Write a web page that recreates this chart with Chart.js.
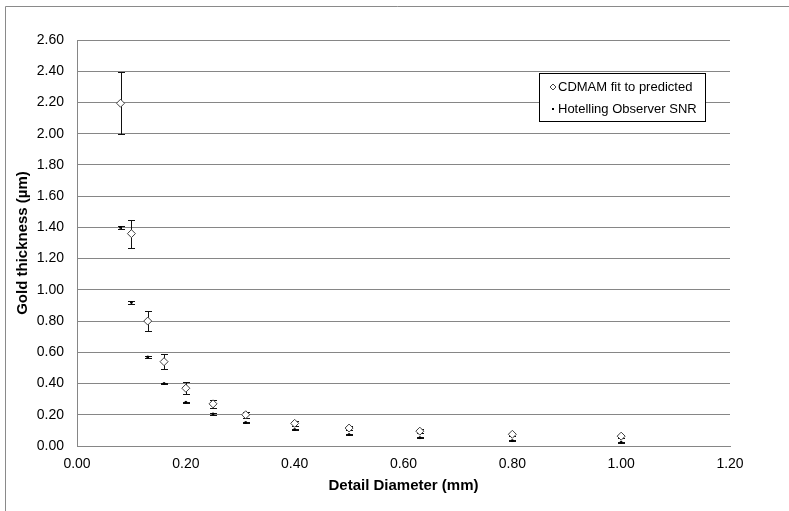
<!DOCTYPE html>
<html>
<head>
<meta charset="utf-8">
<script src="https://cdn.jsdelivr.net/npm/chart.js@4/dist/chart.umd.min.js"></script>
<style>
  html, body { margin: 0; padding: 0; background: #fff; }
  #wrap { position: relative; width: 789px; height: 511px; }
</style>
</head>
<body>
<div id="wrap"><canvas id="chart" width="789" height="511"></canvas></div>
<script>
// detail diameters (mm)
const diameters = [0.08, 0.10, 0.13, 0.16, 0.20, 0.25, 0.31, 0.40, 0.50, 0.63, 0.80, 1.00];
// gold thickness (um) - CDMAM fit to predicted, with error half-widths
const cdmamValues = [2.195, 1.36, 0.80, 0.54, 0.37, 0.27, 0.20, 0.145, 0.115, 0.095, 0.075, 0.063];
const cdmamErrors = [0.20, 0.09, 0.065, 0.05, 0.037, 0.025, 0.02, 0.016, 0.014, 0.012, 0.01, 0.01];
// Hotelling observer SNR
const hotellingValues = [1.40, 0.92, 0.57, 0.40, 0.28, 0.205, 0.15, 0.105, 0.073, 0.053, 0.034, 0.024];
const hotellingErrors = [0.01, 0.008, 0.006, 0.005, 0.004, 0.004, 0.004, 0.004, 0.004, 0.003, 0.003, 0.003];

const seriesLabels = ['CDMAM fit to predicted', 'Hotelling Observer SNR'];
const axisTitles = { x: 'Detail Diameter (mm)', y: 'Gold thickness (\u00b5m)' };

const FONT = "'Liberation Sans', Arial, sans-serif";
const GRID = '#868686';

const toPoints = (vals, errs) => vals.map((v, i) => ({ x: diameters[i], y: v, err: errs[i] }));

// error bars, drawn under the markers
const errorBars = {
  id: 'errorBars',
  beforeDatasetsDraw(chart) {
    const { ctx, scales: { x, y } } = chart;
    ctx.save();
    ctx.strokeStyle = '#111';
    ctx.lineWidth = 1;
    chart.data.datasets.forEach(ds => {
      ds.data.forEach(p => {
        const px = Math.round(x.getPixelForValue(p.x)) + 0.5;
        const top = Math.round(y.getPixelForValue(p.y + p.err)) + 0.5;
        const bot = Math.round(y.getPixelForValue(p.y - p.err)) + 0.5;
        ctx.beginPath();
        ctx.moveTo(px, top); ctx.lineTo(px, bot);
        ctx.moveTo(px - 3.5, top); ctx.lineTo(px + 3.5, top);
        ctx.moveTo(px - 3.5, bot); ctx.lineTo(px + 3.5, bot);
        ctx.stroke();
      });
    });
    ctx.restore();
  }
};

// outer frame + boxed legend inside the plot
const frameAndLegend = {
  id: 'frameAndLegend',
  beforeDraw(chart) {
    const ctx = chart.ctx;
    ctx.save();
    ctx.strokeStyle = '#8a8a8a';
    ctx.lineWidth = 1;
    ctx.beginPath();
    ctx.moveTo(5.5, 520); ctx.lineTo(5.5, 6.5); ctx.lineTo(800, 6.5);
    ctx.stroke();
    ctx.restore();
  },
  afterDraw(chart) {
    const ctx = chart.ctx;
    ctx.save();
    ctx.fillStyle = '#fff';
    ctx.fillRect(539, 73, 167, 49);
    ctx.strokeStyle = '#000';
    ctx.lineWidth = 1;
    ctx.strokeRect(539.5, 73.5, 166, 48);
    ctx.font = '13px ' + FONT;
    ctx.fillStyle = '#000';
    ctx.textBaseline = 'middle';
    ctx.fillText(seriesLabels[0], 558, 87);
    ctx.fillText(seriesLabels[1], 558, 109);
    // diamond marker
    ctx.beginPath();
    ctx.moveTo(553, 84); ctx.lineTo(556, 87); ctx.lineTo(553, 90); ctx.lineTo(550, 87);
    ctx.closePath();
    ctx.fillStyle = '#fff';
    ctx.fill();
    ctx.strokeStyle = '#404040';
    ctx.stroke();
    // dot marker
    ctx.fillStyle = '#000';
    ctx.fillRect(552, 108, 2, 2);
    ctx.restore();
  }
};

new Chart(document.getElementById('chart'), {
  type: 'scatter',
  data: {
    datasets: [
      {
        label: seriesLabels[0],
        data: toPoints(cdmamValues, cdmamErrors),
        pointStyle: 'rectRot',
        pointRadius: 4,
        pointBackgroundColor: '#fff',
        pointBorderColor: '#404040',
        pointBorderWidth: 1,
        order: 1
      },
      {
        label: seriesLabels[1],
        data: toPoints(hotellingValues, hotellingErrors),
        pointStyle: 'rect',
        pointRadius: 1.2,
        pointBackgroundColor: '#000',
        pointBorderColor: '#000',
        pointBorderWidth: 1,
        order: 2
      }
    ]
  },
  options: {
    responsive: false,
    animation: false,
    layout: { padding: { top: 40, right: 59, left: 0, bottom: 0 } },
    plugins: {
      legend: { display: false },
      tooltip: { enabled: false }
    },
    scales: {
      x: {
        type: 'linear',
        min: 0,
        max: 1.2,
        afterFit(scale) { scale.height = 65; },
        ticks: {
          stepSize: 0.2,
          padding: 10,
          color: '#000',
          font: { family: FONT, size: 14 },
          callback: v => v.toFixed(2)
        },
        grid: { display: false, drawTicks: false },
        border: { display: true, color: GRID, width: 1 },
        title: {
          display: true,
          text: axisTitles.x,
          color: '#000',
          font: { family: FONT, size: 15, weight: 'bold' },
          padding: { top: 0, bottom: 16 }
        }
      },
      y: {
        type: 'linear',
        min: 0,
        max: 2.6,
        afterFit(scale) { scale.width = 77; },
        ticks: {
          stepSize: 0.2,
          padding: 13,
          color: '#000',
          font: { family: FONT, size: 14 },
          callback: v => v.toFixed(2)
        },
        grid: { color: GRID, lineWidth: 1, drawTicks: false },
        border: { display: true, color: GRID, width: 1 },
        title: {
          display: true,
          text: axisTitles.y,
          color: '#000',
          font: { family: FONT, size: 15, weight: 'bold' },
          padding: { top: 14, bottom: 0 }
        }
      }
    }
  },
  plugins: [errorBars, frameAndLegend]
});
</script>
</body>
</html>
